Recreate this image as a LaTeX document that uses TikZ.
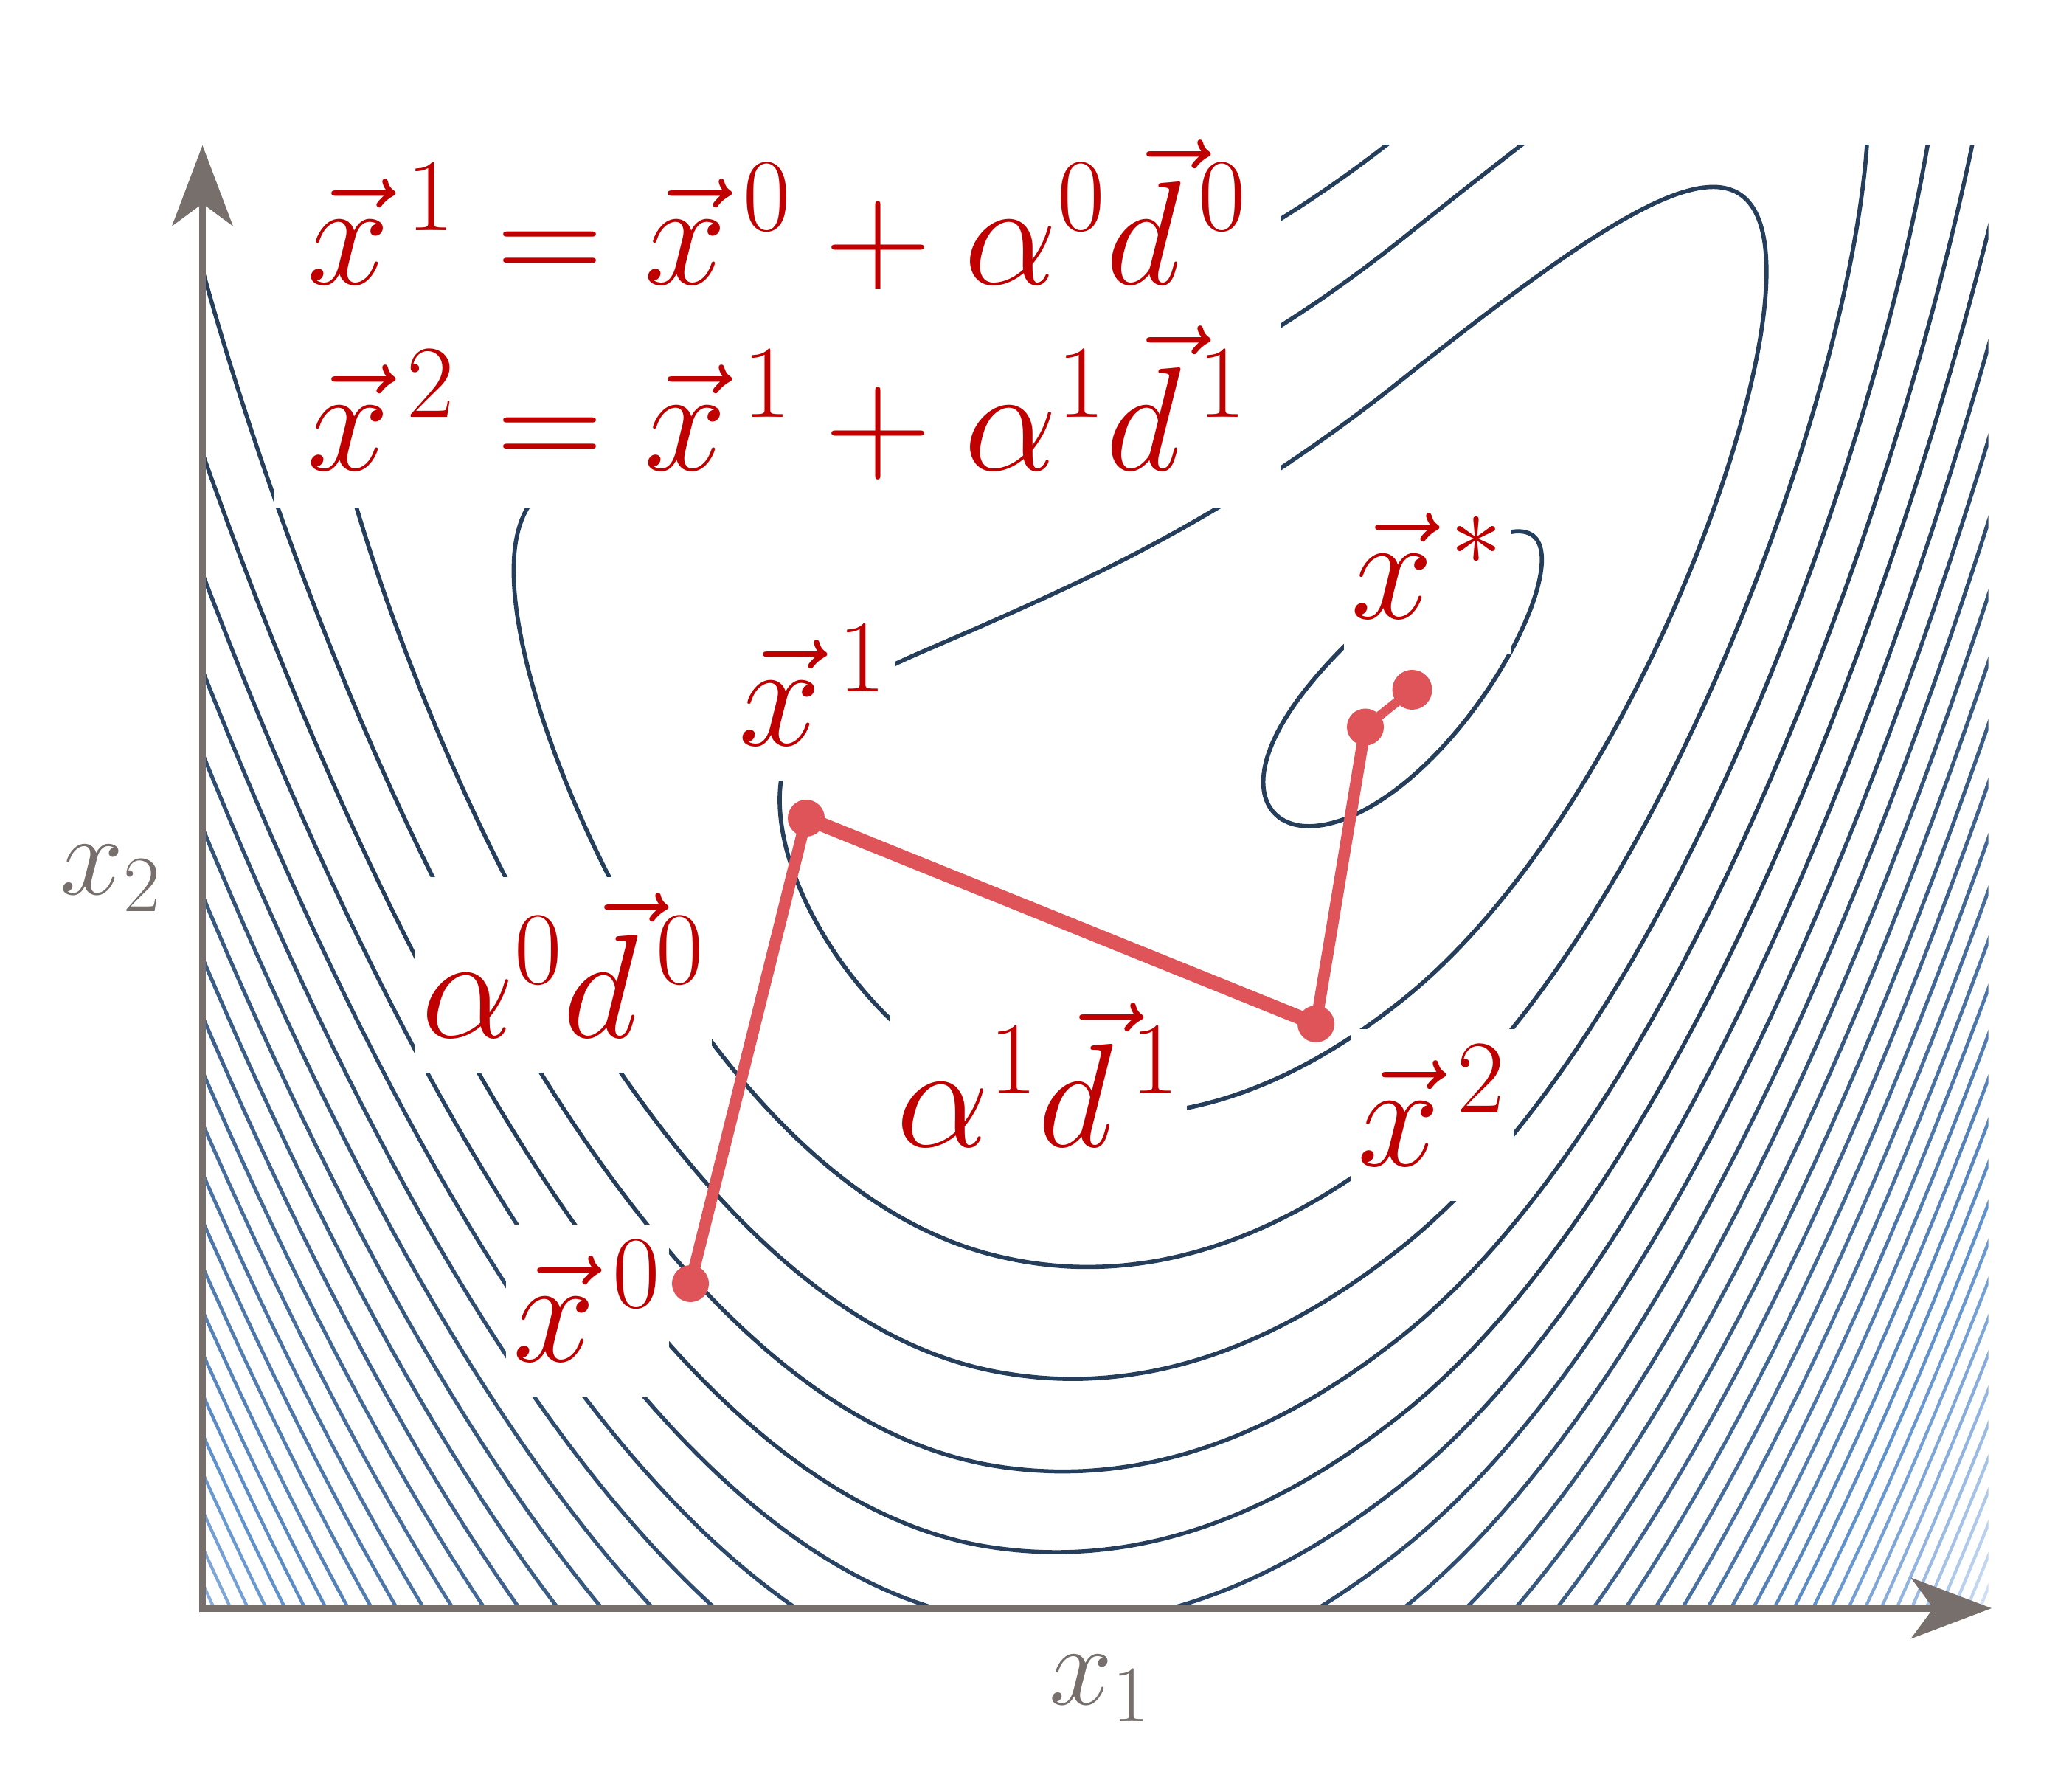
\RequirePackage{fix-cm}
\documentclass[tikz,border=0pt]{standalone}
\usepackage{amsmath}
\usepackage{tikz}
\usetikzlibrary{arrows.meta,calc,positioning}
\definecolor{deepnavy}{RGB}{36,62,92}
\definecolor{skyblue}{RGB}{96,146,206}
\definecolor{paleblue}{RGB}{206,222,245}
\definecolor{labelred}{RGB}{192,0,0}
\definecolor{pathred}{RGB}{223,84,89}
\definecolor{axisgray}{RGB}{119,111,108}
\newcommand{\dvec}[1]{\vec{{d}}^{\,#1}}
\tikzset{
  axis/.style={
    line width=2.6pt,
    axisgray,
    line join=miter,
    {Stealth[length=1.09cm,width=0.82cm,inset=0.3cm]}-{Stealth[length=1.09cm,width=0.82cm,inset=0.3cm]}
  },
  axislabel/.style={
    text=axisgray,
    inner sep=0pt,
    font=\fontsize{44}{50}\selectfont
  },
  tag/.style={
    fill=white,
    text=labelred,
    inner xsep=0.1cm,
    inner ysep=0.22cm,
    text depth=0.26cm,
    font=\fontsize{57}{60}\selectfont
  },
  eqline/.style={
    tag,
    inner xsep=0.45cm,
    inner ysep=0.5cm,
    text depth=0pt
  },
  dot/.style={
    circle,
    fill=pathred,
    inner sep=0pt,
    minimum size=0.5cm
  },
  walk/.style={
    line width=4.5pt,
    pathred,
    line cap=round
  }
}

\begin{document}
\begin{tikzpicture}[
  declare function={
    cu(\x)=0.672+(\wl+(\wr-\wl)*(cos(\x)>0))*cos(\x);
    valley(\x)=0.515+(2.75-0.65*(\x>0.44))*(\x-0.44)*(\x-0.44);
    cv(\x)=valley(cu(\x))+\hk*sin(\x);
  }]
\useasboundingbox (0,0) rectangle (28.09,24.01);

\begin{scope}[shift={(2.745cm,2.21cm)}, x=24.21cm, y=19.83cm]
  \clip (0,0) rectangle (1,1);
  \foreach \k in {1,...,33} {
    \pgfmathsetmacro\hk{\k==1 ? 0.065 : sqrt(abs(0.05*\k-0.055))}
    \pgfmathsetmacro\wr{\k==1 ? 0.078 : 0.593*\hk+0.078}
    \pgfmathsetmacro\wl{\k==1 ? 0.078 : 1.55*\hk+0.02}
    \pgfmathtruncatemacro\mixa{min(100,max(0,(\k-6)*100/16))}
    \pgfmathtruncatemacro\mixb{min(100,max(0,(\k-22)*100/11))}
    \pgfmathsetmacro\lw{max(1.2,1.65-0.018*\k)}
    \pgfmathtruncatemacro\tstart{\k<6 ? 0 : 180}
    \colorlet{levelcol}{skyblue!\mixa!deepnavy}
    \colorlet{levelcol}{paleblue!\mixb!levelcol}
    \draw[levelcol, line width=\lw pt]
      plot[smooth, domain=\tstart:360, samples=300, variable=\t] ({cu(\t)}, {cv(\t)});
  }
\end{scope}

\coordinate (o) at (2.745,2.21);
\coordinate (xend) at (27.0,2.21);
\coordinate (yend) at (2.745,22.04);
\draw[axis] (yend) -- (o) -- (xend);
\node[axislabel, anchor=base west] (lx1) at (14.22,0.909) {$x_1$};
\node[axislabel, anchor=base west] (lx2) at (0.806,11.882) {$x_2$};

\node[eqline, anchor=base west] (eqa) at (3.71,20.158) {$\vec{x}^{\,1} = \vec{x}^{\,0} + \alpha^0\dvec{0}$};
\node[eqline, anchor=base west] (eqb) at (3.71,17.632) {$\vec{x}^{\,2} = \vec{x}^{\,1} + \alpha^1\dvec{1}$};
\node[tag, anchor=base west] (tx1) at (9.91,13.906) {$\vec{x}^{\,1}$};
\node[tag, anchor=base west] (txs) at (18.21,15.626) {$\vec{x}^{\,*}$};
\node[tag, anchor=base west] (ta0) at (5.61,9.947) {$\alpha^0\dvec{0}$};
\node[tag, anchor=base west] (ta1) at (12.05,8.46) {$\alpha^1\dvec{1}$};
\node[tag, anchor=base west] (tx2) at (18.30,8.21) {$\vec{x}^{\,2}$};
\node[tag, anchor=base west] (tx0) at (6.85,5.557) {$\vec{x}^{\,0}$};

\node[dot] (p0) at (9.36,6.61) {};
\node[dot] (p1) at (10.93,12.92) {};
\node[dot] (p2) at (17.84,10.13) {};
\node[dot] (p3) at (18.51,14.155) {};
\node[dot, minimum size=0.54cm] (pstar) at (19.145,14.66) {};
\draw[walk] (p0.center) -- (p1.center);
\draw[walk, line width=5.5pt] (p1.center) -- (p2.center);
\draw[walk] (p2.center) -- (p3.center);
\draw[walk, line width=3.5pt] (p3.center) -- (pstar.center);
\end{tikzpicture}
\end{document}
